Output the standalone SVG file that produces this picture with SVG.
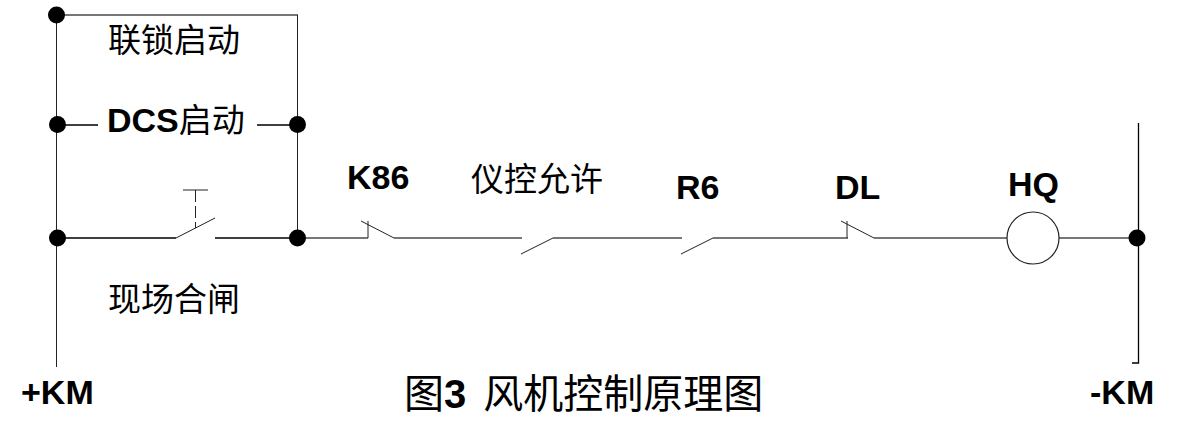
<svg xmlns="http://www.w3.org/2000/svg" width="1181" height="429" viewBox="0 0 1181 429">
<style>
.w{fill:none;stroke:#000;stroke-width:1.3}
.g{fill:none;stroke:#777;stroke-width:2}
.t{fill:none;stroke:#222;stroke-width:1}
.d{fill:#000}
text{fill:#000;font-family:"Liberation Sans","Noto Sans CJK SC",sans-serif}
.b{font-size:34px;font-weight:bold}
.c{font-size:33px}
</style>
<rect width="1181" height="429" fill="#fff"/>
<g id="connectors">
<path class="g" d="M56 15H298" />
<path class="t" d="M56.500 15V367M297.500 15V238"/>
<path class="w" d="M58 125H98M257 125H297"/>
<path class="w" d="M58 238H176M215 238H297"/>
<path class="t" d="M176 238L215 218"/>
<path class="t" d="M183 190H208"/>
<path class="t" stroke-dasharray="12 4" d="M195.500 190V228"/>
<path class="g" d="M297 238H368"/>
<path class="t" d="M368 238V221M361 221L394 238"/>
<path class="g" d="M394 238H522M553 238H682M713 238H848"/>
<path class="t" d="M521 254L553 238M681 254L713 238"/>
<path class="t" d="M847 238V221M841 221L874 238"/>
<path class="g" d="M874 238H1007M1059 238H1137"/>
<path class="w" d="M1138.500 123V363H1132"/>
</g>
<g id="junction-top-left"><circle class="d" cx="56.500" cy="15" r="8.500"/></g>
<g id="junction-dcs-left"><circle class="d" cx="57.500" cy="124.500" r="8.500"/></g>
<g id="junction-dcs-right"><circle class="d" cx="297.500" cy="124.500" r="8.500"/></g>
<g id="junction-manual-left"><circle class="d" cx="57.500" cy="238" r="8.500"/></g>
<g id="junction-manual-right"><circle class="d" cx="297.500" cy="238" r="8.500"/></g>
<g id="junction-right"><circle class="d" cx="1137" cy="238" r="8.500"/></g>
<g id="coil-hq"><circle cx="1033" cy="238" r="26" fill="#fff" stroke="#222" stroke-width="1.200"/></g>
<g id="labels">
<text class="c" x="108" y="52">联锁启动</text>
<text x="107" y="132"><tspan class="b">DCS</tspan><tspan class="c">启动</tspan></text>
<text class="c" x="108" y="311">现场合闸</text>
<text class="b" x="347" y="189">K86</text>
<text class="c" x="471" y="191">仪控允许</text>
<text class="b" x="676" y="199">R6</text>
<text class="b" x="835" y="199">DL</text>
<text class="b" x="1008" y="196">HQ</text>
<text class="b" x="21" y="404">+KM</text>
<text class="b" x="1090" y="404">-KM</text>
<text x="404" y="408" style="font-size:40px">图<tspan font-weight="bold">3</tspan><tspan dx="17">风机控制原理图</tspan></text>
</g>
</svg>
